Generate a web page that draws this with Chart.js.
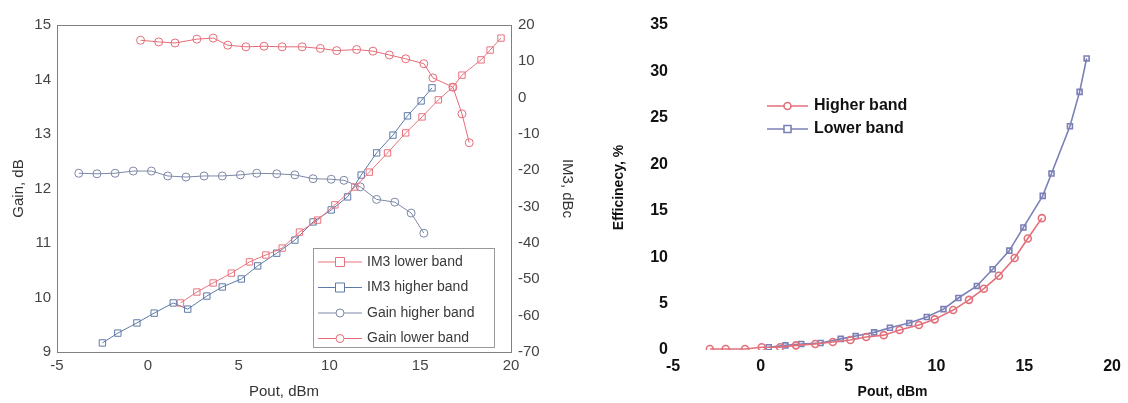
<!DOCTYPE html>
<html>
<head>
<meta charset="utf-8">
<script src="https://cdn.jsdelivr.net/npm/chart.js"></script>
<style>
  body { margin: 0; background: #fff; }
  #wrap { position: relative; width: 1128px; height: 403px; }
  #left { position: absolute; left: 0; top: 0; }
  #right { position: absolute; left: 590px; top: 0; }
</style>
</head>
<body>
<div id="wrap">
  <canvas id="left" width="590" height="403"></canvas>
  <canvas id="right" width="538" height="403"></canvas>
</div>
<script>
// left plot: gain and IM3 vs output power
var gainLowX = [-0.4, 0.6, 1.5, 2.7, 3.6, 4.4, 5.4, 6.4, 7.4, 8.5, 9.5, 10.4, 11.5, 12.4, 13.3, 14.2, 15.2, 15.7, 16.8, 17.3, 17.7];
var gainLowY = [14.72, 14.69, 14.67, 14.74, 14.76, 14.63, 14.6, 14.61, 14.6, 14.6, 14.57, 14.53, 14.55, 14.52, 14.45, 14.38, 14.29, 14.03, 13.86, 13.37, 12.84];

var gainHighX = [-3.8, -2.8, -1.8, -0.8, 0.2, 1.1, 2.1, 3.1, 4.1, 5.1, 6.0, 7.1, 8.1, 9.1, 10.1, 10.8, 11.7, 12.6, 13.6, 14.5, 15.2];
var gainHighY = [12.28, 12.27, 12.28, 12.32, 12.32, 12.23, 12.21, 12.23, 12.23, 12.25, 12.28, 12.27, 12.25, 12.18, 12.17, 12.15, 12.03, 11.8, 11.75, 11.55, 11.18];

var im3HighX = [-2.5, -1.65, -0.6, 0.35, 1.4, 2.2, 3.25, 4.1, 5.15, 6.05, 7.1, 8.1, 9.1, 10.1, 11.0, 11.75, 12.6, 13.5, 14.3, 15.05, 15.65];
var im3HighY = [-67.5, -64.8, -62.0, -59.3, -56.5, -58.2, -54.6, -52.1, -49.9, -46.3, -42.8, -39.2, -34.2, -30.9, -27.3, -21.3, -15.2, -10.3, -5.0, -0.9, 2.7];

var im3LowX = [1.8, 2.7, 3.6, 4.6, 5.6, 6.5, 7.4, 8.35, 9.35, 10.3, 11.4, 12.2, 13.2, 14.2, 15.1, 16.0, 16.8, 17.3, 18.35, 18.85, 19.45];
var im3LowY = [-56.5, -53.5, -51.0, -48.3, -45.2, -43.3, -41.4, -37.0, -33.7, -29.5, -24.6, -20.5, -15.2, -9.7, -5.3, -0.6, 2.9, 6.2, 10.4, 13.1, 16.4];

// right plot: efficiency
var effHighX = [-2.9, -2.0, -0.9, 0.05, 1.1, 2.0, 3.1, 4.1, 5.1, 6.0, 7.0, 7.9, 9.0, 9.9, 10.95, 11.85, 12.7, 13.55, 14.45, 15.2, 16.0];
var effHighY = [0.1, 0.1, 0.1, 0.3, 0.3, 0.5, 0.65, 0.86, 1.08, 1.4, 1.6, 2.15, 2.7, 3.3, 4.3, 5.4, 6.6, 8.0, 9.9, 12.0, 14.2];

var effLowX = [0.45, 1.4, 2.3, 3.4, 4.55, 5.4, 6.45, 7.35, 8.45, 9.45, 10.4, 11.25, 12.3, 13.2, 14.15, 14.95, 16.05, 16.55, 17.6, 18.15, 18.55];
var effLowY = [0.3, 0.5, 0.65, 0.75, 1.2, 1.5, 1.9, 2.4, 2.9, 3.55, 4.4, 5.6, 6.9, 8.7, 10.7, 13.2, 16.6, 19.0, 24.1, 27.8, 31.4];

function pts(xs, ys) {
    return xs.map(function (x, i) { return { x: x, y: ys[i] }; });
}

// box around the plot area (matlab style)
var frame = {
    id: 'frame',
    afterDraw: function (chart, args, opts) {
        if (!opts.color) return;
        var a = chart.chartArea, ctx = chart.ctx;
        ctx.save();
        ctx.strokeStyle = opts.color;
        ctx.lineWidth = 1;
        ctx.strokeRect(a.left + 0.5, a.top + 0.5, a.right - a.left, a.bottom - a.top);
        ctx.restore();
    }
};

function drawMarker(ctx, style, x, y, r) {
    ctx.beginPath();
    if (style === 'rect') {
        ctx.rect(x - r, y - r, 2 * r, 2 * r);
    } else {
        ctx.arc(x, y, r, 0, Math.PI * 2);
    }
    ctx.fillStyle = '#fff';
    ctx.fill();
    ctx.stroke();
}

// legend drawn inside the plot
var boxLegend = {
    id: 'boxLegend',
    afterDraw: function (chart, args, o) {
        if (!o.order) return;
        var ctx = chart.ctx;
        ctx.save();
        if (o.box) {
            ctx.fillStyle = '#fff';
            ctx.fillRect(o.box[0], o.box[1], o.box[2], o.box[3]);
            ctx.strokeStyle = '#999';
            ctx.lineWidth = 1;
            ctx.strokeRect(o.box[0] + 0.5, o.box[1] + 0.5, o.box[2], o.box[3]);
        }
        o.order.forEach(function (i, k) {
            var ds = chart.data.datasets[i];
            var y = o.y + k * o.rowH;
            ctx.strokeStyle = ds.borderColor;
            ctx.lineWidth = ds.borderWidth;
            ctx.beginPath();
            ctx.moveTo(o.x, y);
            ctx.lineTo(o.x + o.lineW, y);
            ctx.stroke();
            drawMarker(ctx, ds.pointStyle, o.x + o.lineW / 2, y, ds.pointRadius);
            ctx.fillStyle = o.color;
            ctx.font = o.font;
            ctx.textBaseline = 'middle';
            ctx.fillText(ds.label, o.x + o.lineW + o.gap, y);
        });
        ctx.restore();
    }
};

Chart.register(frame, boxLegend);

var leftFont = { family: 'Liberation Sans, Arial, sans-serif', size: 15 };

new Chart(document.getElementById('left'), {
    type: 'scatter',
    data: {
        datasets: [{
            label: 'IM3 lower band',
            data: pts(im3LowX, im3LowY),
            yAxisID: 'y2',
            showLine: true,
            borderColor: '#e8737e',
            borderWidth: 1,
            pointStyle: 'rect',
            pointRadius: 4.5,
            pointBackgroundColor: 'rgba(255,255,255,0)'
        }, {
            label: 'IM3 higher band',
            data: pts(im3HighX, im3HighY),
            yAxisID: 'y2',
            showLine: true,
            borderColor: '#5f7aa6',
            borderWidth: 1,
            pointStyle: 'rect',
            pointRadius: 4.5,
            pointBackgroundColor: 'rgba(255,255,255,0)'
        }, {
            label: 'Gain higher band',
            data: pts(gainHighX, gainHighY),
            yAxisID: 'y',
            showLine: true,
            borderColor: '#7d88a6',
            borderWidth: 1,
            pointStyle: 'circle',
            pointRadius: 4,
            pointBackgroundColor: 'rgba(255,255,255,0)'
        }, {
            label: 'Gain lower band',
            data: pts(gainLowX, gainLowY),
            yAxisID: 'y',
            showLine: true,
            borderColor: '#e56c78',
            borderWidth: 1,
            pointStyle: 'circle',
            pointRadius: 4,
            pointBackgroundColor: 'rgba(255,255,255,0)'
        }]
    },
    options: {
        responsive: false,
        animation: false,
        layout: { padding: { top: 25 } },
        plugins: {
            legend: { display: false },
            tooltip: { enabled: false },
            frame: { color: '#808080' },
            boxLegend: {
                box: [313, 248, 181, 99],
                order: [0, 1, 2, 3],
                x: 318, y: 262, rowH: 25.5, lineW: 44, gap: 5,
                color: '#3a3a3a',
                font: '14px "Liberation Sans", Arial, sans-serif'
            }
        },
        scales: {
            x: {
                type: 'linear',
                min: -5, max: 20,
                ticks: { stepSize: 5, color: '#444', font: leftFont, padding: 5 },
                grid: { display: false, drawTicks: false },
                border: { display: false },
                title: { display: true, text: 'Pout, dBm', color: '#333', font: leftFont, padding: { bottom: 2 } },
                afterFit: function (s) { s.height = 51; }
            },
            y: {
                position: 'left',
                min: 9, max: 15,
                ticks: { stepSize: 1, color: '#444', font: leftFont, padding: 6 },
                grid: { display: false, drawTicks: false },
                border: { display: false },
                title: { display: true, text: 'Gain, dB', color: '#333', font: leftFont, padding: { top: 10 } },
                afterFit: function (s) { s.width = 57; }
            },
            y2: {
                position: 'right',
                min: -70, max: 20,
                ticks: { stepSize: 10, color: '#444', font: leftFont, padding: 7 },
                grid: { display: false, drawTicks: false },
                border: { display: false },
                title: { display: true, text: 'IM3, dBc', color: '#333', font: leftFont, padding: { top: 14 } },
                afterFit: function (s) { s.width = 79; }
            }
        }
    }
});

var rightTick = { family: 'Liberation Sans, Arial, sans-serif', size: 16, weight: 'bold' };
var rightTitle = { family: 'Liberation Sans, Arial, sans-serif', size: 14, weight: 'bold' };

new Chart(document.getElementById('right'), {
    type: 'scatter',
    data: {
        datasets: [{
            label: 'Higher band',
            data: pts(effHighX, effHighY),
            showLine: true,
            borderColor: '#e2707b',
            borderWidth: 1.6,
            pointStyle: 'circle',
            pointRadius: 3.5,
            pointBorderWidth: 1.6,
            pointBackgroundColor: 'rgba(255,255,255,0)'
        }, {
            label: 'Lower band',
            data: pts(effLowX, effLowY),
            showLine: true,
            borderColor: '#7b80b6',
            borderWidth: 1.6,
            pointStyle: 'rect',
            pointRadius: 3.5,
            pointBorderWidth: 1.6,
            pointBackgroundColor: 'rgba(255,255,255,0)'
        }]
    },
    options: {
        responsive: false,
        animation: false,
        layout: { padding: { top: 25, right: 10 } },
        plugins: {
            legend: { display: false },
            tooltip: { enabled: false },
            boxLegend: {
                order: [0, 1],
                x: 177, y: 106, rowH: 23, lineW: 41, gap: 6,
                color: '#111',
                font: 'bold 16px "Liberation Sans", Arial, sans-serif'
            }
        },
        scales: {
            x: {
                type: 'linear',
                min: -5, max: 20,
                ticks: { stepSize: 5, color: '#111', font: rightTick, padding: 7 },
                grid: { display: false, drawTicks: false },
                border: { display: false },
                title: { display: true, text: 'Pout, dBm', color: '#111', font: rightTitle, padding: { bottom: 2 } },
                afterFit: function (s) { s.height = 53; }
            },
            y: {
                min: 0, max: 35,
                ticks: { stepSize: 5, color: '#111', font: rightTick, padding: 5 },
                grid: { display: false, drawTicks: false },
                border: { display: false },
                title: { display: true, text: 'Efficinecy, %', color: '#111', font: rightTitle, padding: { top: 21 } },
                afterFit: function (s) { s.width = 83; }
            }
        }
    }
});
</script>
</body>
</html>
